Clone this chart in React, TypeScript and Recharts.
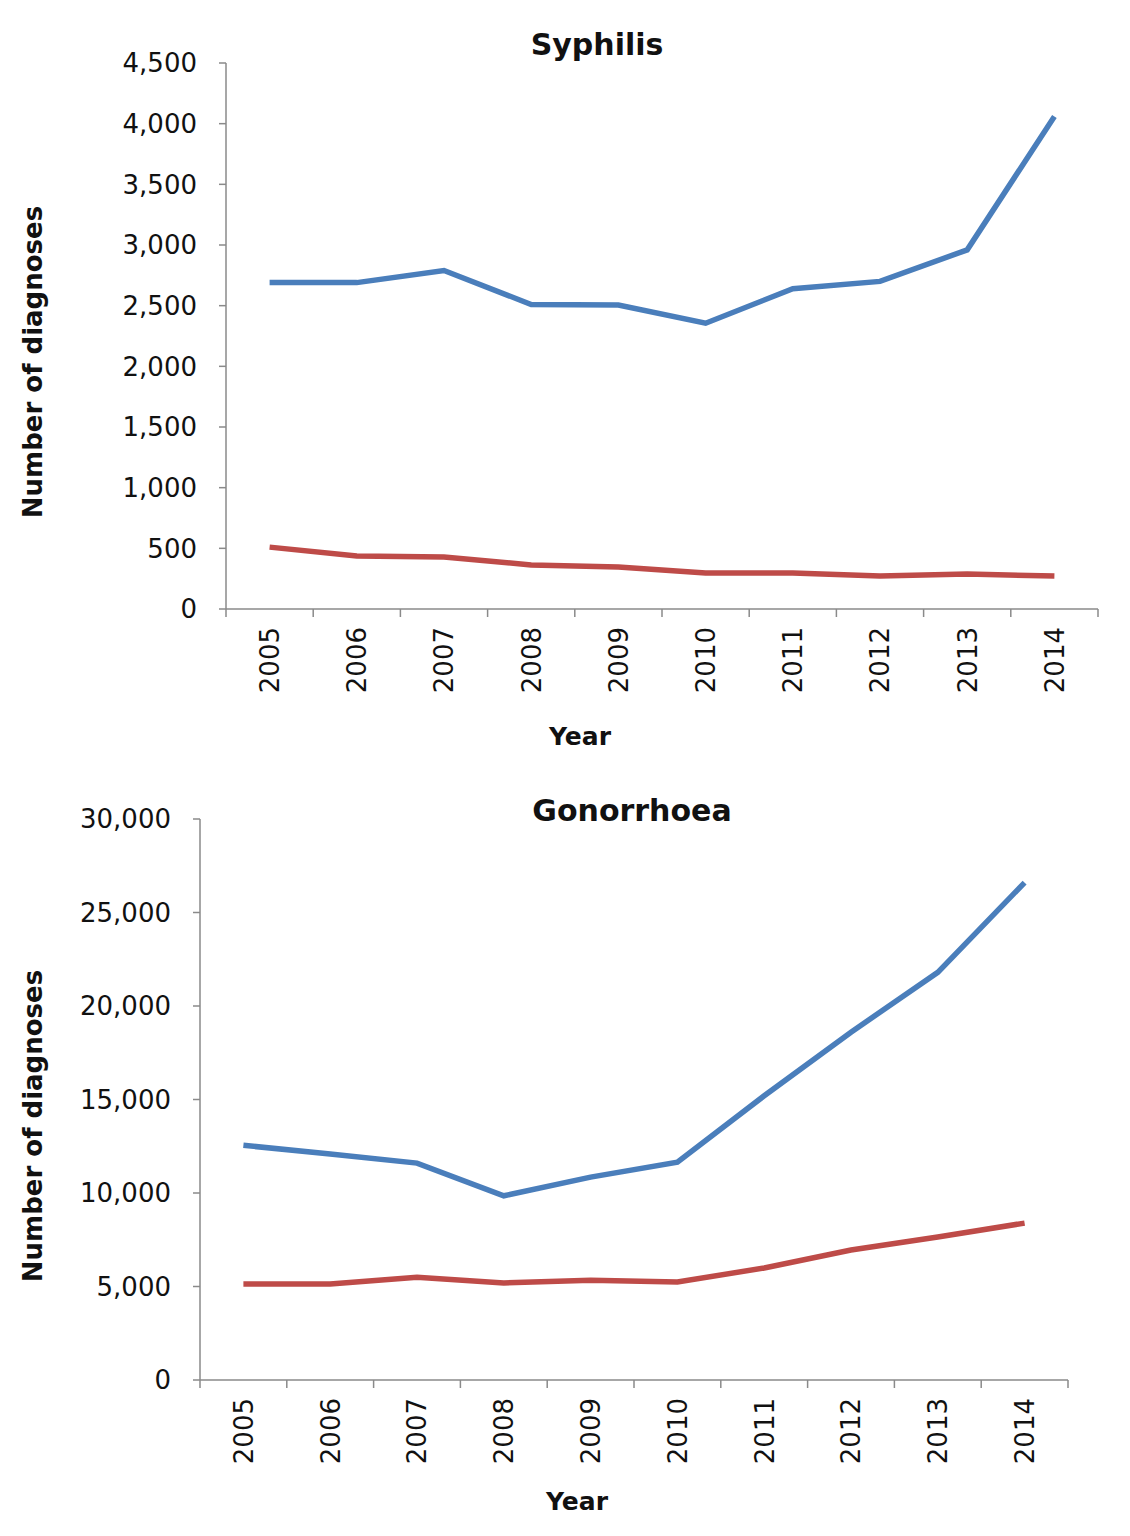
import React from 'react';
import { LineChart, Line, XAxis, YAxis, Customized } from 'recharts';

const years = ['2005', '2006', '2007', '2008', '2009', '2010', '2011', '2012', '2013', '2014'];

const syphilisMen = [2690, 2690, 2790, 2510, 2505, 2355, 2640, 2700, 2960, 4060];
const syphilisWomen = [510, 437, 428, 363, 346, 297, 297, 272, 288, 272];
const syphilisTicks = [0, 500, 1000, 1500, 2000, 2500, 3000, 3500, 4000, 4500];

const gonorrhoeaMen = [12550, 12080, 11600, 9850, 10850, 11650, 15200, 18600, 21800, 26600];
const gonorrhoeaWomen = [5130, 5130, 5500, 5190, 5340, 5240, 5990, 6950, 7650, 8390];
const gonorrhoeaTicks = [0, 5000, 10000, 15000, 20000, 25000, 30000];

const BLUE = '#4a7ebb';
const RED = '#be4b48';
const AXIS = '#8a8a8a';
const FONT = '"DejaVu Sans", sans-serif';

const syphilisData = years.map((y, i) => ({ year: y, men: syphilisMen[i], women: syphilisWomen[i] }));
const gonorrhoeaData = years.map((y, i) => ({ year: y, men: gonorrhoeaMen[i], women: gonorrhoeaWomen[i] }));

const fmt = (v: number) => v.toLocaleString('en-US');

const makeXTick = (bw: number, n: number) => (props: any) => {
  const { x, y, payload, index } = props;
  const ty = y + 18;
  return (
    <g>
      <line x1={x - bw / 2} y1={y} x2={x - bw / 2} y2={y + 8} stroke={AXIS} strokeWidth={1.5} />
      {index === n - 1 && (
        <line x1={x + bw / 2} y1={y} x2={x + bw / 2} y2={y + 8} stroke={AXIS} strokeWidth={1.5} />
      )}
      <text
        x={x}
        y={ty}
        dy="0.36em"
        transform={`rotate(-90 ${x} ${ty})`}
        textAnchor="end"
        fontSize={26}
        fontFamily={FONT}
        fill="#111"
      >
        {payload.value}
      </text>
    </g>
  );
};

type PanelProps = {
  title: string;
  titleX: number;
  titleY: number;
  data: any[];
  ticks: number[];
  plotLeft: number;
  plotRight: number;
  plotTop: number;
  plotBottom: number;
  yLabelY: number;
  yearX: number;
  yearY: number;
};

const W = 1130;
const H = 768;

function Panel(p: PanelProps) {
  const plotW = p.plotRight - p.plotLeft;
  const bw = plotW / years.length;
  const XTick = makeXTick(bw, years.length);
  return (
    <LineChart
      width={W}
      height={H}
      data={p.data}
      margin={{ top: p.plotTop, right: W - p.plotRight, bottom: 0, left: 0 }}
    >
      <XAxis
        dataKey="year"
        scale="band"
        height={H - p.plotBottom}
        interval={0}
        tickLine={false}
        tickSize={0}
        tickMargin={0}
        axisLine={{ stroke: AXIS, strokeWidth: 1.5 }}
        tick={XTick}
        label={{
          content: () => (
            <text
              x={p.yearX}
              y={p.yearY}
              textAnchor="middle"
              fontSize={25}
              fontWeight="bold"
              fontFamily={FONT}
              fill="#111"
            >
              Year
            </text>
          ),
        }}
      />
      <YAxis
        type="number"
        width={p.plotLeft}
        domain={[p.ticks[0], p.ticks[p.ticks.length - 1]]}
        ticks={p.ticks}
        interval={0}
        tickFormatter={fmt}
        tickSize={7}
        tickMargin={22}
        tickLine={{ stroke: AXIS, strokeWidth: 1.5 }}
        axisLine={{ stroke: AXIS, strokeWidth: 1.5 }}
        tick={{ fontSize: 26, fontFamily: FONT, fill: '#111' }}
        label={{
          content: () => (
            <text
              x={33}
              y={p.yLabelY}
              dy="0.36em"
              transform={`rotate(-90 33 ${p.yLabelY})`}
              textAnchor="middle"
              fontSize={26}
              fontWeight="bold"
              fontFamily={FONT}
              fill="#111"
            >
              Number of diagnoses
            </text>
          ),
        }}
      />
      <Customized
        component={() => (
          <text
            x={p.titleX}
            y={p.titleY}
            textAnchor="middle"
            fontSize={30}
            fontWeight="bold"
            fontFamily={FONT}
            fill="#111"
          >
            {p.title}
          </text>
        )}
      />
      <Line type="linear" dataKey="men" stroke={BLUE} strokeWidth={5.5} dot={false} isAnimationActive={false} />
      <Line type="linear" dataKey="women" stroke={RED} strokeWidth={5.5} dot={false} isAnimationActive={false} />
    </LineChart>
  );
}

export default function App() {
  return (
    <div style={{ position: 'absolute', left: 0, top: 0, width: W, height: 1536, background: '#fff' }}>
      <div style={{ position: 'absolute', left: 0, top: 0 }}>
        <Panel
          title="Syphilis"
          titleX={597}
          titleY={55}
          data={syphilisData}
          ticks={syphilisTicks}
          plotLeft={226}
          plotRight={1098}
          plotTop={63}
          plotBottom={609}
          yLabelY={362}
          yearX={580}
          yearY={745}
        />
      </div>
      <div style={{ position: 'absolute', left: 0, top: H }}>
        <Panel
          title="Gonorrhoea"
          titleX={632}
          titleY={53}
          data={gonorrhoeaData}
          ticks={gonorrhoeaTicks}
          plotLeft={200}
          plotRight={1068}
          plotTop={51}
          plotBottom={612}
          yLabelY={358}
          yearX={577}
          yearY={742}
        />
      </div>
    </div>
  );
}
